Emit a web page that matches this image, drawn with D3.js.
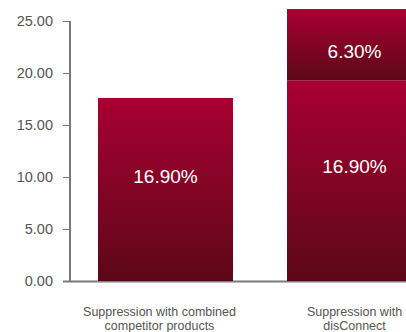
<!DOCTYPE html>
<html>
<head>
<meta charset="utf-8">
<script src="https://cdn.jsdelivr.net/npm/d3@7"></script>
<style>
  body { margin: 0; background: #fff; }
  text { font-family: "Liberation Sans", Arial, sans-serif; }
</style>
</head>
<body>
<div id="chart"></div>
<script>
// categories and series
var categories = ["Suppression with combined competitor products", "Suppression with disConnect"];
var categoryLines = [["Suppression with combined", "competitor products"], ["Suppression with", "disConnect"]];
var baseValues = [17.6, 19.3];
var extraValues = [0, 6.85];
var baseLabels = ["16.90%", "16.90%"];
var extraLabels = ["", "6.30%"];
var yTicks = [0, 5, 10, 15, 20, 25];

var width = 406, height = 332;
var margin = {top: 21, right: 0, bottom: 51, left: 70};
var innerH = height - margin.top - margin.bottom;

var svg = d3.select("#chart").append("svg")
    .attr("width", width)
    .attr("height", height);

// red gradient used on every bar segment
var grad = svg.append("defs").append("linearGradient")
    .attr("id", "barGrad")
    .attr("x1", 0).attr("y1", 0).attr("x2", 0).attr("y2", 1);
grad.append("stop").attr("offset", "0%").attr("stop-color", "#a80032");
grad.append("stop").attr("offset", "100%").attr("stop-color", "#5c0818");

// second bar runs past the right edge, as in the original
var x = d3.scaleBand()
    .domain(categories)
    .range([margin.left, 450])
    .paddingInner(0.2857)
    .paddingOuter(0.148);

var y = d3.scaleLinear()
    .domain([0, 25])
    .range([margin.top + innerH, margin.top]);

// stack the two series
var rows = categories.map(function(c, i) {
    return {cat: c, base: baseValues[i], extra: extraValues[i]};
});
var stack = d3.stack().keys(["base", "extra"])(rows);
var labelSets = [baseLabels, extraLabels];
var labelFrac = [0.57, 0.4];

// x axis line (drawn under the bars)
svg.append("line")
    .attr("x1", margin.left - 7).attr("x2", width)
    .attr("y1", y(0) + 0.5).attr("y2", y(0) + 0.5)
    .attr("stroke", "#7a7a7a")
    .attr("stroke-width", 2);

stack.forEach(function(layer, li) {
    svg.append("g").selectAll("rect")
        .data(layer.filter(function(d) { return d[1] > d[0]; }))
        .join("rect")
        .attr("x", function(d) { return x(d.data.cat); })
        .attr("width", x.bandwidth())
        .attr("y", function(d) { return y(d[1]); })
        .attr("height", function(d) { return y(d[0]) - y(d[1]); })
        .attr("fill", "url(#barGrad)");
});

stack.forEach(function(layer, li) {
    svg.append("g").selectAll("text")
        .data(layer.filter(function(d) { return d[1] > d[0]; }))
        .join("text")
        .attr("x", function(d) { return x(d.data.cat) + x.bandwidth() / 2; })
        .attr("y", function(d) {
            return y(d[0]) - labelFrac[li] * (y(d[0]) - y(d[1]));
        })
        .attr("dy", "0.35em")
        .attr("text-anchor", "middle")
        .attr("fill", "#fff")
        .style("font-size", "19px")
        .text(function(d) { return labelSets[li][categories.indexOf(d.data.cat)]; });
});

// y axis
var yAxis = svg.append("g")
    .attr("transform", "translate(" + margin.left + ",0)")
    .call(d3.axisLeft(y).tickValues(yTicks).tickSize(7).tickPadding(10)
        .tickFormat(d3.format(".2f")));
yAxis.select(".domain").attr("stroke", "#7a7a7a").attr("stroke-width", 2)
    .attr("d", "M0," + y(25) + "V" + y(0));
yAxis.selectAll(".tick line").attr("stroke", "#7a7a7a").attr("stroke-width", 1);
yAxis.selectAll(".tick text")
    .attr("fill", "#555")
    .style("font-size", "14.5px")
    .style("font-family", "'Liberation Sans', Arial, sans-serif");

// category labels, two lines each
var catLabels = svg.append("g").selectAll("text")
    .data(categories)
    .join("text")
    .attr("text-anchor", "middle")
    .attr("fill", "#555")
    .style("font-size", "12.5px");
catLabels.each(function(c, i) {
    var t = d3.select(this);
    var cx = x(c) + x.bandwidth() / 2 - (i === 0 ? 6 : 0);
    categoryLines[i].forEach(function(line, j) {
        t.append("tspan")
            .attr("x", cx)
            .attr("y", 316 + j * 14)
            .text(line);
    });
});
</script>
</body>
</html>
